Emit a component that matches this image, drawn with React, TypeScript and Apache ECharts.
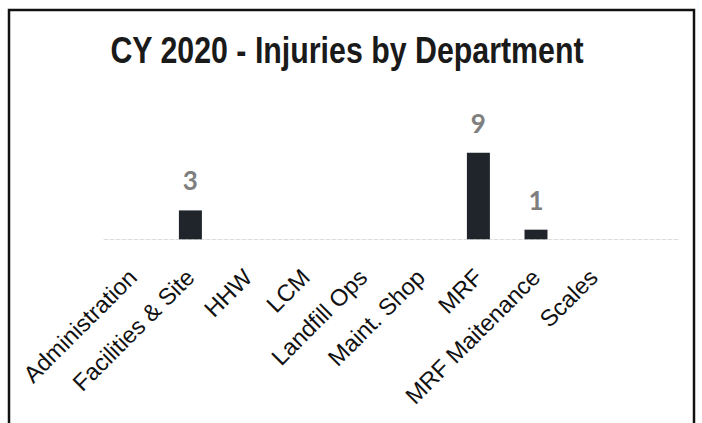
import React, { useEffect, useRef } from "react";
import * as echarts from "echarts";

const categories = [
  "Administration",
  "Facilities & Site",
  "HHW",
  "LCM",
  "Landfill Ops",
  "Maint. Shop",
  "MRF",
  "MRF Maitenance",
  "Scales",
];
const injuries = [0, 3, 0, 0, 0, 0, 9, 1, 0];
const titleText = "CY 2020 - Injuries by Department";

export default function App() {
  const ref = useRef<HTMLDivElement>(null);
  useEffect(() => {
    if (!ref.current) return;
    const chart = echarts.init(ref.current, undefined, { renderer: "svg" });
    chart.setOption({
      animation: false,
      backgroundColor: "#ffffff",
      graphic: [
        {
          type: "rect",
          shape: { x: 9, y: 10, width: 685, height: 430 },
          style: { fill: "none", stroke: "#111", lineWidth: 2.5 },
          silent: true,
        },
        {
          type: "text",
          x: 347,
          y: 31,
          scaleX: 0.82,
          silent: true,
          style: {
            text: titleText,
            font: "bold 37px 'Liberation Sans', Arial, sans-serif",
            fill: "#1a1a1a",
            textAlign: "center",
            textVerticalAlign: "top",
          },
        },
      ],
      grid: { left: 104, right: 22, top: 143, bottom: 183.7 },
      xAxis: {
        type: "category",
        data: categories,
        max: 9,
        axisLine: { show: true, lineStyle: { color: "#dddddd", width: 1, type: "dashed" } },
        axisTick: { show: false },
        axisLabel: {
          interval: 0,
          rotate: 45,
          margin: 34,
          fontFamily: "'Liberation Sans', Arial, sans-serif",
          fontSize: 23.5,
          color: "#111",
        },
      },
      yAxis: {
        type: "value",
        min: 0,
        max: 10,
        show: false,
        splitLine: { show: false },
      },
      series: [
        {
          type: "bar",
          data: injuries,
          barWidth: 23,
          itemStyle: { color: "#20252b" },
          label: {
            show: true,
            position: "top",
            distance: 17,
            fontFamily: "Lato, 'Open Sans', sans-serif",
            fontWeight: "bold",
            fontSize: 26,
            color: "#7f7f7f",
            formatter: (p: any) => (p.value ? String(p.value) : ""),
          },
        },
      ],
    });
    return () => chart.dispose();
  }, []);
  return (
    <div
      ref={ref}
      style={{ position: "fixed", left: 0, top: 0, width: 702, height: 423 }}
    />
  );
}
